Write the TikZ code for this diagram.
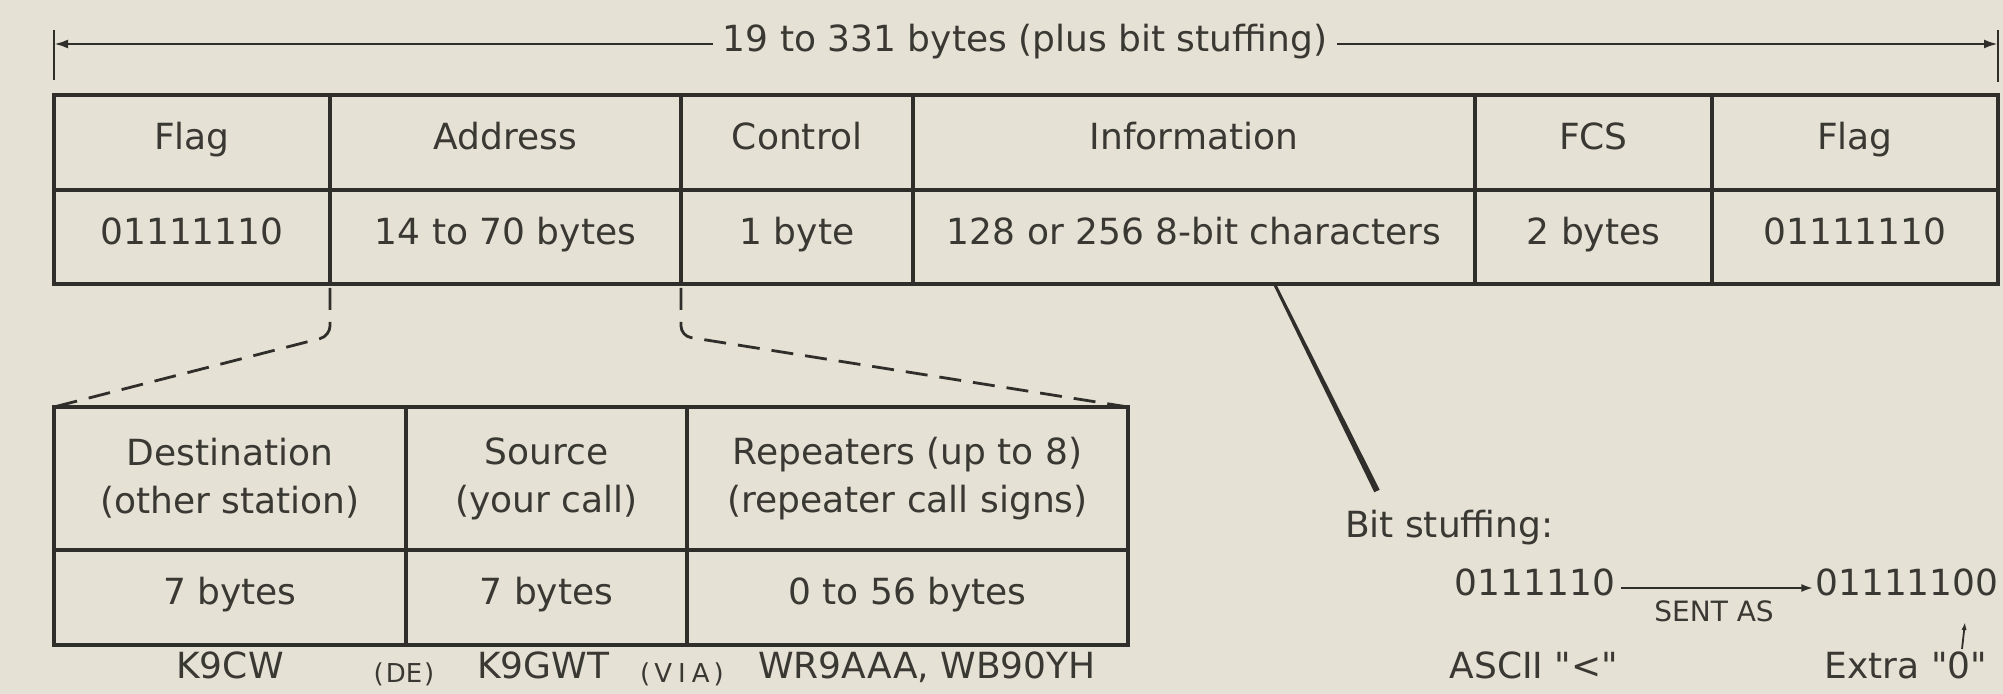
\documentclass[tikz,border=0pt]{standalone}
\usepackage{fontspec}
\setmainfont{DejaVu Sans}
\usetikzlibrary{arrows.meta}
\definecolor{paper}{RGB}{229,225,212}
\definecolor{ink}{RGB}{48,46,42}
\definecolor{txtc}{RGB}{58,56,51}
\begin{document}
\begin{tikzpicture}[x=0.5pt,y=-0.5pt,
  lbl/.style={font=\fontsize{18}{24}\selectfont, text=txtc, inner sep=0pt, outer sep=0pt, text height=0.73em, text depth=0pt},
  smalltxt/.style={font=\fontsize{13}{15}\selectfont, text=txtc, inner sep=0pt, outer sep=0pt, text height=0.73em, text depth=0pt},
  cellbase/.style={rectangle, draw=ink, line width=1.6pt, inner sep=0pt, outer sep=0pt, minimum height=47.5pt, font=\fontsize{18}{24}\selectfont, text=txtc},
  cell/.style={cellbase, text height=0.73em, text depth=0pt},
  hcell/.style={cellbase, align=center, minimum height=71.5pt},
  dimline/.style={draw=ink, line width=1.3pt},
  dimarrow/.style={dimline, -{Latex[length=7pt,width=4.5pt]}},
  dashline/.style={draw=ink, line width=1.4pt, dash pattern=on 11pt off 6pt, rounded corners=5pt},
  bitarrow/.style={draw=ink, line width=1.2pt, -{Latex[length=6pt,width=4pt]}},
  smallarrow/.style={draw=ink, line width=0.9pt, -{Latex[length=4pt,width=2.6pt]}}
]
\fill[paper] (0,0) rectangle (2003,694);
\useasboundingbox (0,0) rectangle (2003,694);

% dimension line
\node[lbl, inner xsep=5pt] (dim) at (1025,44) {19 to 331 bytes (plus bit stuffing)};
\coordinate (dl) at (54,44);
\coordinate (dr) at (1998,44);
\draw[dimarrow] (dim.west) -- (dl);
\draw[dimarrow] (dim.east) -- (dr);
\draw[dimline] ([yshift=7pt]dl) -- ([yshift=-18pt]dl);
\draw[dimline] ([yshift=7pt]dr) -- ([yshift=-19pt]dr);

% frame table
\node[cell, minimum width=138pt]   (f1) at (192,142.5)  {Flag};
\node[cell, minimum width=175.5pt] (a1) at (505.5,142.5) {Address};
\node[cell, minimum width=116pt]   (c1) at (797,142.5)  {Control};
\node[cell, minimum width=281pt]   (i1) at (1194,142.5) {Information};
\node[cell, minimum width=118.5pt] (s1) at (1593.5,142.5) {FCS};
\node[cell, minimum width=143pt]   (g1) at (1855,142.5) {Flag};
\node[cell, minimum width=138pt, minimum height=47pt]   (f2) at (192,237)  {01111110};
\node[cell, minimum width=175.5pt, minimum height=47pt] (a2) at (505.5,237) {14 to 70 bytes};
\node[cell, minimum width=116pt, minimum height=47pt]   (c2) at (797,237)  {1 byte};
\node[cell, minimum width=281pt, minimum height=47pt]   (i2) at (1194,237) {128 or 256 8-bit characters};
\node[cell, minimum width=118.5pt, minimum height=47pt] (s2) at (1593.5,237) {2 bytes};
\node[cell, minimum width=143pt, minimum height=47pt]   (g2) at (1855,237) {01111110};

% address table
\node[hcell, minimum width=176pt]   (d1) at (230,478.5) {Destination\\(other station)};
\node[hcell, minimum width=140.5pt] (o1) at (546.5,478.5) {Source\\(your call)};
\node[hcell, minimum width=220.5pt] (r1) at (907.5,478.5) {Repeaters (up to 8)\\(repeater call signs)};
\node[cell, minimum width=176pt]   (d2) at (230,597.5) {7 bytes};
\node[cell, minimum width=140.5pt] (o2) at (546.5,597.5) {7 bytes};
\node[cell, minimum width=220.5pt] (r2) at (907.5,597.5) {0 to 56 bytes};

% dashed expansion lines
\coordinate (k1) at (330,336);
\coordinate (k2) at (681,336);
\draw[dashline] ([yshift=-2pt]a2.south west) -- (k1) -- (d1.north west);
\draw[dashline] ([yshift=-2pt]a2.south east) -- (k2) -- (r1.north east);

% call signs
\node[lbl] (cw) at (230,671) {K9CW};
\node[smalltxt] (de) at (404,675) {(\kern1pt DE\kern1pt)};
\node[lbl] (gwt) at (543,671) {K9GWT};
\node[smalltxt] (via) at (682,675) {(\kern2pt V\kern3pt I\kern3pt A\kern2pt)};
\node[lbl] (rep) at (927,671) {WR9AAA, WB90YH};

% pointer to bit stuffing
\fill[ink] (1273.7,285.7) -- (1276.3,284.3) -- (1379.7,489.7) -- (1374.3,492.3) -- cycle;

% bit stuffing
\node[lbl, anchor=west] (bs) at (1345,530) {Bit stuffing:};
\node[lbl, inner xsep=3pt] (b1) at (1535,588) {0111110};
\node[lbl, inner xsep=1pt] (b2) at (1907,588) {01111100};
\draw[bitarrow] (b1.east) -- (b2.west);
\node[smalltxt, font=\fontsize{14}{16}\selectfont] (sent) at (1714,614) {SENT AS};
\node[lbl] (asc) at (1534,671) {ASCII \textquotedbl<\textquotedbl};
\node[lbl] (ext) at (1906,671) {Extra \textquotedbl 0\textquotedbl};
\coordinate (z0) at (1962,649);
\coordinate (z1) at (1965,622);
\draw[smallarrow] (z0) -- (z1);
\end{tikzpicture}
\end{document}
